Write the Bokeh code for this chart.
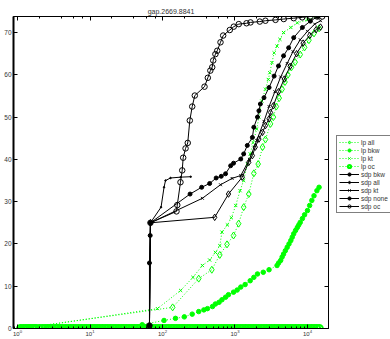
from bokeh.plotting import figure
from bokeh.layouts import row
from bokeh.models import Range1d, LogAxis, LinearAxis, Legend, LegendItem, FixedTicker, LogTicker
from bokeh.embed import file_html
from bokeh.resources import INLINE

TITLE = "gap.2669.8841"
y_ticks = [0, 10, 20, 30, 40, 50, 60, 70]

# ---- lp series (green, dotted) ----
lp_all_x = [1.1, 138, 316, 479, 617, 776, 955, 1122, 1318, 1549, 1820, 2089, 2399, 2630, 3090,
            3388, 3715, 4074, 4467, 4898, 5370, 6026, 6761, 7943, 9120, 10471, 12303, 14454]
lp_all_y = [0, 5.0, 11.8, 13.9, 17.4, 19.9, 22.0, 24.8, 28.7, 31.8, 36.7, 38.9, 42.9, 44.7, 48.4,
            50.0, 52.5, 54.5, 56.6, 58.3, 60.0, 61.8, 63.0, 64.8, 66.5, 68.2, 69.8, 71.0]

lp_bkw_x = [1.1, 52.5, 105, 151, 200, 257, 316, 372, 417, 490, 537, 603, 661, 741, 813, 955,
            1072, 1202, 1380, 1622, 1820, 2042, 2455, 2951, 3802, 4000, 4266, 4467, 4677, 4950,
            5248, 5560, 5888, 6166, 6457, 6850, 7244, 7585, 7943, 8511, 9120, 10000, 10715,
            11482, 12303, 13490, 14454]
lp_bkw_y = [0, 0.9, 1.9, 2.4, 2.75, 3.4, 4.0, 4.4, 4.7, 5.2, 5.8, 6.2, 6.8, 7.4, 8.0, 8.6,
            9.1, 9.8, 10.4, 11.3, 12.1, 12.9, 13.3, 13.9, 14.9, 15.5, 16.1, 16.9, 17.6, 18.4,
            19.2, 20.0, 20.8, 21.6, 22.4, 23.2, 23.9, 24.5, 25.1, 26.0, 26.9, 27.9, 29.1,
            30.3, 31.4, 32.6, 33.4]

lp_kt_x = [1.2, 85.1, 178, 263, 355, 447, 537, 617, 661, 785, 891, 1023, 1175, 1318, 1479, 1622,
           1778, 1995, 2138, 2344, 2630, 2884, 3020, 3236, 3467, 3802, 4169, 4677, 5888, 7244,
           10000, 13490]
lp_kt_y = [0, 4.7, 9.0, 12.1, 14.9, 16.2, 18.0, 19.6, 22.8, 24.5, 26.2, 29.1, 32.6, 35.0, 38.9, 41.3,
           44.0, 47.2, 50.0, 53.8, 56.6, 58.9, 60.5, 62.9, 65.2, 66.8, 68.4, 70.0, 71.2, 72.3,
           73.0, 73.8]

lp_oc_x = [1.1, 1.2, 1.3, 1.4, 1.5, 1.6, 1.7, 1.8, 2.0, 2.2, 2.4, 2.6, 2.8, 3.0, 3.3, 3.6, 3.9,
           4.2, 4.6, 5.0, 5.4, 5.9, 6.4, 7.0, 7.6, 8.3, 9.0, 9.8, 10.7, 11.6, 12.6, 13.7, 14.9,
           16.2, 17.6, 19.2, 20.9, 22.7, 24.7, 26.9, 29.2, 31.8, 34.6, 37.6, 40.9, 44.5, 48.4,
           52.6, 57.2, 62.2, 67.7, 73.6, 80, 87, 95, 103, 112, 122, 133, 144, 157, 171, 186,
           202, 220, 239, 260, 283, 307, 334, 364, 396, 430, 468, 509, 553, 602, 654, 712, 774,
           842, 915, 995, 1082, 1177, 1280, 1392, 1514, 1646, 1790, 1947, 2117, 2302, 2504,
           2723, 2961, 3220, 3502, 3808, 4141, 4503, 4897, 5326, 5791, 6298, 6849, 7448, 8099,
           8807, 9578, 10415, 11326, 12317, 13394, 14565]
lp_oc_y = [0] * len(lp_oc_x)

# ---- sdp series (black, solid) ----
sdp_bkw_x = [66.1, 66.1, 67.6, 68.2, 240, 347, 447, 550, 646, 741, 871, 955, 1202, 1318, 1479,
             1738, 1820, 2042, 2138, 2239, 2512, 2951, 3467, 3981, 4677, 5495, 6457, 8511,
             10965, 13804]
sdp_bkw_y = [0.7, 15.5, 22.0, 25.0, 31.8, 33.4, 34.3, 35.6, 36.0, 36.6, 38.5, 39.1, 40.1, 41.3, 43.3,
             45.2, 47.6, 50.0, 51.5, 53.1, 54.6, 57.0, 59.7, 62.1, 64.5, 66.4, 68.8, 71.2,
             72.7, 73.8]

sdp_all_x = [66.1, 68.2, 525, 813, 1259, 1549, 1738, 1905, 2138, 2399, 2630, 2951, 3090, 3388,
             3981, 4786, 5754, 7079, 8710, 10715, 13183, 15136]
sdp_all_y = [0.7, 25.0, 26.3, 31.8, 35.8, 39.3, 40.9, 42.9, 44.8, 46.4, 48.0, 49.6, 51.1, 52.7,
             56.0, 59.0, 62.0, 65.0, 67.5, 69.3, 70.7, 71.3]

sdp_kt_x = [66.1, 68.2, 355, 631, 912, 1202, 1585, 1995, 2512, 2951, 3548, 4266, 5248, 6310,
            7943, 10000, 12589, 15136]
sdp_kt_y = [0.7, 25.0, 30.8, 34.0, 35.5, 36.2, 40.0, 44.5, 49.0, 52.5, 56.0, 59.5, 62.7, 65.5,
            68.3, 70.3, 72.0, 72.8]

sdp_none_x = [66.1, 68.2, 95.5, 105, 110, 129, 178, 245]
sdp_none_y = [0.7, 25.0, 28.7, 33.4, 35.0, 35.6, 35.8, 35.9]

sdp_oc_x = [66.1, 68.2, 156, 160, 177, 187, 193, 208, 223, 238, 257, 279, 380, 422, 457, 485,
            501, 537, 569, 631, 687, 847, 962, 1128, 1442, 1637, 2198, 2630, 3622, 4710, 6457,
            8453, 10990, 13614, 15950]
sdp_oc_y = [0.7, 25.0, 27.7, 29.2, 34.6, 37.4, 40.4, 42.6, 43.9, 49.2, 52.5, 55.1, 57.2, 59.3,
            61.0, 61.8, 63.4, 64.9, 65.7, 67.7, 69.3, 70.6, 71.4, 72.0, 72.2, 72.4, 72.6, 72.8,
            73.0, 73.2, 73.4, 73.6, 73.8, 73.8, 73.8]

series_labels = ["lp all", "lp bkw", "lp kt", "lp oc", "sdp bkw", "sdp all", "sdp kt", "sdp none", "sdp oc"]

GREEN = "#00ff00"
BLACK = "#000000"
FONT = "Liberation Sans"
TEXT = "#333333"

# style per series: (color, marker, size, dash, fill, marker line width)
STYLES = [
    (GREEN, "diamond", 7, "1 2", None, 1.0),
    (GREEN, "circle", 4.5, "1 2", GREEN, 1.0),
    (GREEN, "x", 4.5, "1 2", None, 1.0),
    (GREEN, "circle", 7, "1 2", None, 2.0),
    (BLACK, "circle", 4, "solid", BLACK, 1.0),
    (BLACK, "diamond", 6.5, "solid", None, 1.0),
    (BLACK, "x", 4, "solid", None, 1.0),
    (BLACK, "circle", 1.5, "solid", BLACK, 1.0),
    (BLACK, "circle", 5.5, "solid", None, 1.0),
]
DATA = [(lp_all_x, lp_all_y), (lp_bkw_x, lp_bkw_y), (lp_kt_x, lp_kt_y), (lp_oc_x, lp_oc_y),
        (sdp_bkw_x, sdp_bkw_y), (sdp_all_x, sdp_all_y), (sdp_kt_x, sdp_kt_y),
        (sdp_none_x, sdp_none_y), (sdp_oc_x, sdp_oc_y)]

p = figure(width=330, height=339, x_axis_type="log",
           x_range=Range1d(0.88, 19500), y_range=Range1d(0, 73.8),
           output_backend="svg", toolbar_location=None, title=TITLE,
           min_border_left=13, min_border_right=2, min_border_top=16, min_border_bottom=11)
p.grid.visible = False
p.outline_line_color = BLACK
p.outline_line_width = 1
p.background_fill_color = "white"
p.border_fill_color = "white"

p.title.text_font = FONT
p.title.text_font_size = "7px"
p.title.text_font_style = "normal"
p.title.text_color = TEXT
p.title.align = "center"
p.title.standoff = 4

def style_axis(ax, show_labels=True):
    ax.axis_line_color = BLACK
    ax.axis_line_width = 1
    ax.major_tick_in = 4
    ax.major_tick_out = 0
    ax.minor_tick_in = 2
    ax.minor_tick_out = 0
    ax.major_tick_line_color = BLACK
    ax.minor_tick_line_color = BLACK
    ax.major_label_text_font = FONT
    ax.major_label_text_color = TEXT
    ax.major_label_standoff = 2
    ax.major_label_text_font_size = "6.5px"
    if not show_labels:
        ax.major_label_text_font_size = "1px"
        ax.major_label_text_alpha = 0.0
        ax.major_label_standoff = 0

style_axis(p.xaxis[0])
p.xaxis[0].major_label_text_font_size = "6px"
p.xaxis[0].major_label_standoff = 1
p.yaxis[0].ticker = FixedTicker(ticks=y_ticks)
style_axis(p.yaxis[0])
p.yaxis[0].minor_tick_in = 0
p.yaxis[0].axis_line_width = 2

top_ax = LogAxis(ticker=LogTicker())
style_axis(top_ax, show_labels=False)
p.add_layout(top_ax, "above")
right_ax = LinearAxis(ticker=FixedTicker(ticks=y_ticks))
style_axis(right_ax, show_labels=False)
right_ax.minor_tick_in = 0
p.add_layout(right_ax, "right")

def draw(fig, x, y, st):
    color, marker, size, dash, fill, mlw = st
    r1 = fig.line(x, y, line_color=color, line_width=1, line_dash=dash)
    r2 = fig.scatter(x, y, marker=marker, size=size, line_color=color,
                     fill_color=fill, line_width=mlw)
    return [r1, r2]

for (x, y), st in zip(DATA, STYLES):
    draw(p, x, y, st)

# legend panel (separate figure, same styles; its sample glyphs sit off-range)
q = figure(width=60, height=339, x_range=Range1d(0, 1), y_range=Range1d(0, 1),
           output_backend="svg", toolbar_location=None,
           min_border_left=0, min_border_right=0, min_border_top=0, min_border_bottom=0)
q.axis.visible = False
q.grid.visible = False
q.outline_line_color = None
q.background_fill_color = "white"
q.border_fill_color = "white"

items = []
for lab, st in zip(series_labels, STYLES):
    items.append(LegendItem(label=lab, renderers=draw(q, [-5, -4], [-5, -4], st)))

legend = Legend(items=items, location=(6, 115))
legend.border_line_color = BLACK
legend.border_line_width = 1.5
legend.background_fill_color = "white"
legend.background_fill_alpha = 1.0
legend.label_text_font = FONT
legend.label_text_font_size = "6.5px"
legend.label_text_color = TEXT
legend.glyph_width = 20
legend.glyph_height = 8
legend.label_height = 8
legend.label_standoff = 2
legend.spacing = 0
legend.padding = 2
legend.margin = 0
q.add_layout(legend)

layout = row(p, q, spacing=0)
open("out.html", "w").write(file_html(layout, INLINE))
